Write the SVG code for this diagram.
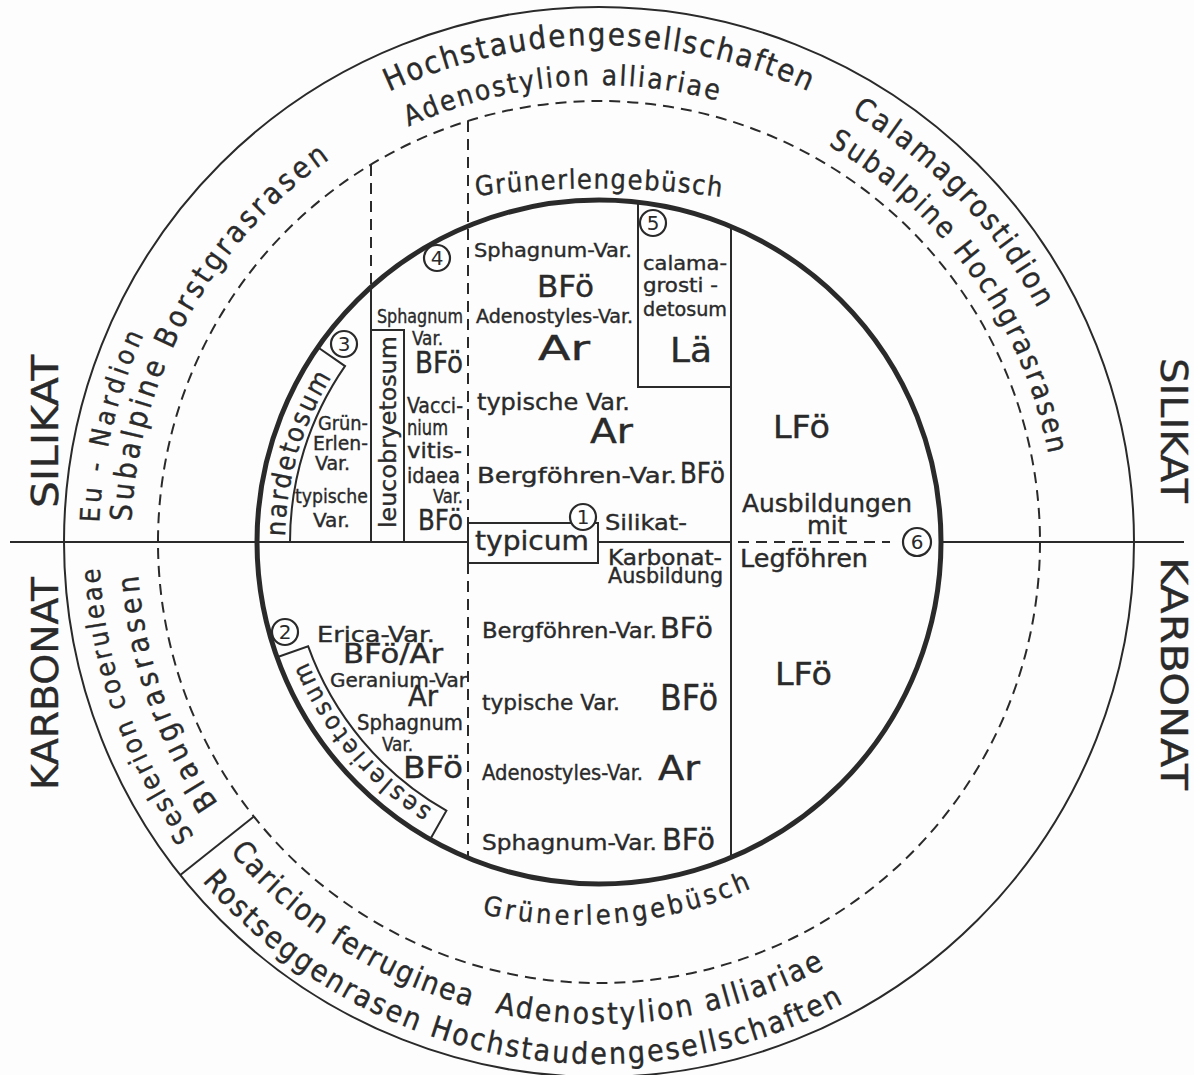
<svg xmlns="http://www.w3.org/2000/svg" width="1194" height="1075" viewBox="0 0 1194 1075">
<defs>
<style>
.t{font-family:"DejaVu Sans Condensed","DejaVu Sans",sans-serif;fill:#2a2a2a;stroke:#2a2a2a;stroke-width:0.35;}
.ln{stroke:#2a2a2a;stroke-width:2;fill:none;}
.dl{stroke:#2a2a2a;stroke-width:2;stroke-dasharray:11 7;fill:none;}
.cn{stroke:#2a2a2a;stroke-width:2.2;fill:#fff;}
.cd{font-family:"DejaVu Sans",sans-serif;fill:#2a2a2a;font-size:20px;text-anchor:middle;}
</style>
<path id="pHoch" d="M 389 91.6 A 497 497 0 0 1 809 91.6"/>
<path id="pAdenoTop" d="M 408.7 126.5 A 457 457 0 0 1 718 100.8"/>
<path id="pEu" d="M 99.4 522.8 A 500 500 0 0 1 144 334.6"/>
<path id="pBorst" d="M 131.4 521.6 A 468 468 0 0 1 330.6 158.6"/>
<path id="pCala" d="M 851.2 113.8 A 497 497 0 0 1 1037.8 308.7"/>
<path id="pHochgras" d="M 828 145.4 A 458 458 0 0 1 1048.6 454.6"/>
<path id="pSesl" d="M 194.5 835.9 A 500 500 0 0 1 99.7 568.2"/>
<path id="pBlau" d="M 218.3 803.7 A 462 462 0 0 1 138.1 574.2"/>
<path id="pCari" d="M 229.8 851.8 A 482 482 0 0 0 470.2 1006.5"/>
<path id="pAdenoBot" d="M 494.7 1012.6 A 482 482 0 0 0 825.3 967.6"/>
<path id="pRost" d="M 202.1 881 A 522 522 0 0 0 844.1 1002.9"/>
<path id="pGrTop" d="M 476 196 A 950 950 0 0 1 722 197"/>
<path id="pGrBot" d="M 482 914 A 430 430 0 0 0 752 888"/>
<path id="pNard" d="M 285 536.5 A 314 314 0 0 1 332.7 375.6"/>
<path id="pSesEt" d="M 432.1 809.1 A 315 315 0 0 1 306.9 660"/>
</defs>
<rect width="1194" height="1075" fill="#fdfdfd"/>

<g id="rings">
<circle cx="599" cy="542" r="535" class="ln"/>
<circle cx="599" cy="542" r="441" class="dl" stroke-width="1.6"/>
<circle cx="599" cy="542" r="342" stroke="#2a2a2a" stroke-width="5" fill="none"/>
</g>

<g id="connectors">
<line x1="10" y1="542" x2="468" y2="542" class="ln"/>
<line x1="941" y1="542" x2="1184" y2="542" class="ln"/>
<line x1="598" y1="542" x2="731" y2="542" class="ln"/>
<line x1="738" y1="542" x2="890" y2="542" class="dl"/>
<line x1="253.9" y1="816.5" x2="180.3" y2="875" class="ln" stroke-width="1.6"/>
<line x1="371" y1="165" x2="371" y2="288" class="dl"/>
<line x1="371" y1="288" x2="371" y2="542" class="ln"/>
<line x1="468" y1="121" x2="468" y2="523" class="dl"/>
<line x1="468" y1="563" x2="468" y2="858" class="dl"/>
<line x1="731" y1="226.5" x2="731" y2="857.5" class="ln"/>
<polyline points="638,202 638,387 731,387" class="ln"/>
<polyline points="371,330 404,330 404,542" class="ln"/>
<path d="M 290 542 A 309 309 0 0 1 345 366.1 L 317.8 347.3" class="ln"/>
<path d="M 277 657.3 L 308.1 646.2 A 309 309 0 0 0 446.4 810.7 L 430.1 839.4" class="ln"/>
<rect x="468" y="523" width="130" height="40" class="ln"/>
</g>

<g id="outer-top">
<text class="t" font-size="31"><textPath href="#pHoch" textLength="433" lengthAdjust="spacing">Hochstaudengesellschaften</textPath></text>
<text class="t" font-size="28"><textPath href="#pAdenoTop" textLength="316" lengthAdjust="spacing">Adenostylion alliariae</textPath></text>
</g>
<g id="outer-left-top">
<text class="t" font-size="27"><textPath href="#pEu" textLength="194" lengthAdjust="spacing">Eu - Nardion</textPath></text>
<text class="t" font-size="30"><textPath href="#pBorst" textLength="428" lengthAdjust="spacing">Subalpine Borstgrasrasen</textPath></text>
</g>
<g id="outer-right-top">
<text class="t" font-size="30"><textPath href="#pCala" textLength="273" lengthAdjust="spacing">Calamagrostidion</textPath></text>
<text class="t" font-size="29"><textPath href="#pHochgras" textLength="391" lengthAdjust="spacing">Subalpine Hochgrasrasen</textPath></text>
</g>
<g id="outer-left-bottom">
<text class="t" font-size="27"><textPath href="#pSesl" textLength="288" lengthAdjust="spacing">Seslerion coeruleae</textPath></text>
<text class="t" font-size="30"><textPath href="#pBlau" textLength="245" lengthAdjust="spacing">Blaugrasrasen</textPath></text>
</g>
<g id="outer-bottom">
<text class="t" font-size="30"><textPath href="#pCari" textLength="290" lengthAdjust="spacing">Caricion ferruginea</textPath></text>
<text class="t" font-size="30"><textPath href="#pAdenoBot" textLength="340" lengthAdjust="spacing">Adenostylion alliariae</textPath></text>
<text class="t" font-size="30"><textPath href="#pRost" textLength="705" lengthAdjust="spacing">Rostseggenrasen Hochstaudengesellschaften</textPath></text>
</g>
<g id="gruenerlen-top">
<text class="t" font-size="27"><textPath href="#pGrTop" textLength="246" lengthAdjust="spacing">Grünerlengebüsch</textPath></text>
</g>
<g id="gruenerlen-bottom">
<text class="t" font-size="27"><textPath href="#pGrBot" textLength="275" lengthAdjust="spacing">Grünerlengebüsch</textPath></text>
</g>

<g id="side-labels">
<text class="t" font-size="38" transform="translate(58,508) rotate(-90)" textLength="153" lengthAdjust="spacingAndGlyphs">SILIKAT</text>
<text class="t" font-size="38" transform="translate(58,790) rotate(-90)" textLength="213" lengthAdjust="spacingAndGlyphs">KARBONAT</text>
<text class="t" font-size="38" transform="translate(1161,358) rotate(90)" textLength="145" lengthAdjust="spacingAndGlyphs">SILIKAT</text>
<text class="t" font-size="38" transform="translate(1161,557) rotate(90)" textLength="233" lengthAdjust="spacingAndGlyphs">KARBONAT</text>
</g>

<g id="node-3-nardetosum">
<text class="t" font-size="27" stroke-width="0.7"><textPath href="#pNard" textLength="168" lengthAdjust="spacing">nardetosum</textPath></text>
<circle cx="344" cy="344" r="13" class="cn"/><text class="cd" x="344" y="351">3</text>
<text class="t" font-size="20" x="318" y="430" textLength="50" lengthAdjust="spacingAndGlyphs">Grün-</text>
<text class="t" font-size="20" x="313" y="450" textLength="55" lengthAdjust="spacingAndGlyphs">Erlen-</text>
<text class="t" font-size="20" x="315" y="470" textLength="35" lengthAdjust="spacingAndGlyphs">Var.</text>
<text class="t" font-size="20" x="295" y="503" textLength="73" lengthAdjust="spacingAndGlyphs">typische</text>
<text class="t" font-size="20" x="313" y="527" textLength="37" lengthAdjust="spacingAndGlyphs">Var.</text>
</g>

<g id="node-leucobryetosum">
<text class="t" font-size="23" stroke-width="0.5" transform="translate(396,528) rotate(-90)" textLength="192" lengthAdjust="spacingAndGlyphs">leucobryetosum</text>
<text class="t" font-size="19" x="377" y="323" textLength="86" lengthAdjust="spacingAndGlyphs">Sphagnum</text>
<text class="t" font-size="19" x="412" y="345" textLength="31" lengthAdjust="spacingAndGlyphs">Var.</text>
<text class="t" font-size="30" x="415" y="373" textLength="48" lengthAdjust="spacingAndGlyphs">BFö</text>
<text class="t" font-size="21" x="407" y="413" textLength="56" lengthAdjust="spacingAndGlyphs">Vacci-</text>
<text class="t" font-size="21" x="407" y="435" textLength="41" lengthAdjust="spacingAndGlyphs">nium</text>
<text class="t" font-size="21" x="407" y="458" textLength="55" lengthAdjust="spacingAndGlyphs">vitis-</text>
<text class="t" font-size="21" x="407" y="483" textLength="53" lengthAdjust="spacingAndGlyphs">idaea</text>
<text class="t" font-size="19" x="433" y="503" textLength="30" lengthAdjust="spacingAndGlyphs">Var.</text>
<text class="t" font-size="29" x="418" y="530" textLength="45" lengthAdjust="spacingAndGlyphs">BFö</text>
</g>

<g id="node-4-silikat">
<circle cx="437" cy="258" r="13" class="cn"/><text class="cd" x="437" y="265">4</text>
<text class="t" font-size="20" x="474" y="257" textLength="158" lengthAdjust="spacingAndGlyphs">Sphagnum-Var.</text>
<text class="t" font-size="31" x="537" y="297" textLength="57" lengthAdjust="spacingAndGlyphs">BFö</text>
<text class="t" font-size="19" x="476" y="323" textLength="157" lengthAdjust="spacingAndGlyphs">Adenostyles-Var.</text>
<text class="t" font-size="34" x="538" y="360" textLength="52" lengthAdjust="spacingAndGlyphs">Ar</text>
<text class="t" font-size="23" x="477" y="410" textLength="153" lengthAdjust="spacingAndGlyphs">typische Var.</text>
<text class="t" font-size="34" x="590" y="443" textLength="43" lengthAdjust="spacingAndGlyphs">Ar</text>
<text class="t" font-size="22" x="477" y="483" textLength="200" lengthAdjust="spacingAndGlyphs">Bergföhren-Var.</text>
<text class="t" font-size="29" x="680" y="483" textLength="45" lengthAdjust="spacingAndGlyphs">BFö</text>
</g>

<g id="node-1-typicum">
<text class="t" font-size="26" stroke-width="0.6" x="475" y="550" textLength="114" lengthAdjust="spacingAndGlyphs">typicum</text>
<circle cx="583" cy="517" r="13" class="cn"/><text class="cd" x="583" y="524">1</text>
<text class="t" font-size="22" x="605" y="530" textLength="82" lengthAdjust="spacingAndGlyphs">Silikat-</text>
<text class="t" font-size="21" x="608" y="565" textLength="114" lengthAdjust="spacingAndGlyphs">Karbonat-</text>
<text class="t" font-size="21" x="608" y="583" textLength="115" lengthAdjust="spacingAndGlyphs">Ausbildung</text>
</g>

<g id="node-5-calamagrostidetosum">
<circle cx="653" cy="223" r="13" class="cn"/><text class="cd" x="653" y="230">5</text>
<text class="t" font-size="20" x="643" y="270" textLength="84" lengthAdjust="spacingAndGlyphs">calama-</text>
<text class="t" font-size="20" x="643" y="292" textLength="75" lengthAdjust="spacingAndGlyphs">grosti -</text>
<text class="t" font-size="20" x="643" y="316" textLength="84" lengthAdjust="spacingAndGlyphs">detosum</text>
<text class="t" font-size="34" x="670" y="362" textLength="42" lengthAdjust="spacingAndGlyphs">Lä</text>
</g>

<g id="node-6-legfoehren">
<text class="t" font-size="32" x="773" y="438" textLength="57" lengthAdjust="spacingAndGlyphs">LFö</text>
<text class="t" font-size="24" x="742" y="512" textLength="170" lengthAdjust="spacingAndGlyphs">Ausbildungen</text>
<text class="t" font-size="24" x="807" y="534" textLength="40" lengthAdjust="spacingAndGlyphs">mit</text>
<circle cx="917" cy="542" r="14" class="cn"/><text class="cd" x="917" y="549" font-size="21">6</text>
<text class="t" font-size="24" x="740" y="567" textLength="128" lengthAdjust="spacingAndGlyphs">Legföhren</text>
<text class="t" font-size="32" x="775" y="685" textLength="57" lengthAdjust="spacingAndGlyphs">LFö</text>
</g>

<g id="node-2-seslerietosum">
<text class="t" font-size="25" stroke-width="0.5"><textPath href="#pSesEt" textLength="196" lengthAdjust="spacing">seslerietosum</textPath></text>
<circle cx="285" cy="632" r="13" class="cn"/><text class="cd" x="285" y="639">2</text>
<text class="t" font-size="22" x="317" y="642" textLength="118" lengthAdjust="spacingAndGlyphs">Erica-Var.</text>
<text class="t" font-size="26" x="343" y="663" textLength="100" lengthAdjust="spacingAndGlyphs">BFö/Ar</text>
<text class="t" font-size="19" x="330" y="687" textLength="137" lengthAdjust="spacingAndGlyphs">Geranium-Var</text>
<text class="t" font-size="28" x="408" y="706" textLength="30" lengthAdjust="spacingAndGlyphs">Ar</text>
<text class="t" font-size="21" x="357" y="730" textLength="106" lengthAdjust="spacingAndGlyphs">Sphagnum</text>
<text class="t" font-size="19" x="382" y="751" textLength="31" lengthAdjust="spacingAndGlyphs">Var.</text>
<text class="t" font-size="31" x="403" y="778" textLength="60" lengthAdjust="spacingAndGlyphs">BFö</text>
</g>

<g id="node-karbonat-center">
<text class="t" font-size="21" x="482" y="638" textLength="175" lengthAdjust="spacingAndGlyphs">Bergföhren-Var.</text>
<text class="t" font-size="28" x="660" y="638" textLength="53" lengthAdjust="spacingAndGlyphs">BFö</text>
<text class="t" font-size="22" x="482" y="710" textLength="138" lengthAdjust="spacingAndGlyphs">typische Var.</text>
<text class="t" font-size="35" x="660" y="710" textLength="58" lengthAdjust="spacingAndGlyphs">BFö</text>
<text class="t" font-size="21" x="482" y="780" textLength="161" lengthAdjust="spacingAndGlyphs">Adenostyles-Var.</text>
<text class="t" font-size="34" x="658" y="780" textLength="42" lengthAdjust="spacingAndGlyphs">Ar</text>
<text class="t" font-size="22" x="482" y="850" textLength="175" lengthAdjust="spacingAndGlyphs">Sphagnum-Var.</text>
<text class="t" font-size="30" x="662" y="850" textLength="53" lengthAdjust="spacingAndGlyphs">BFö</text>
</g>
</svg>
